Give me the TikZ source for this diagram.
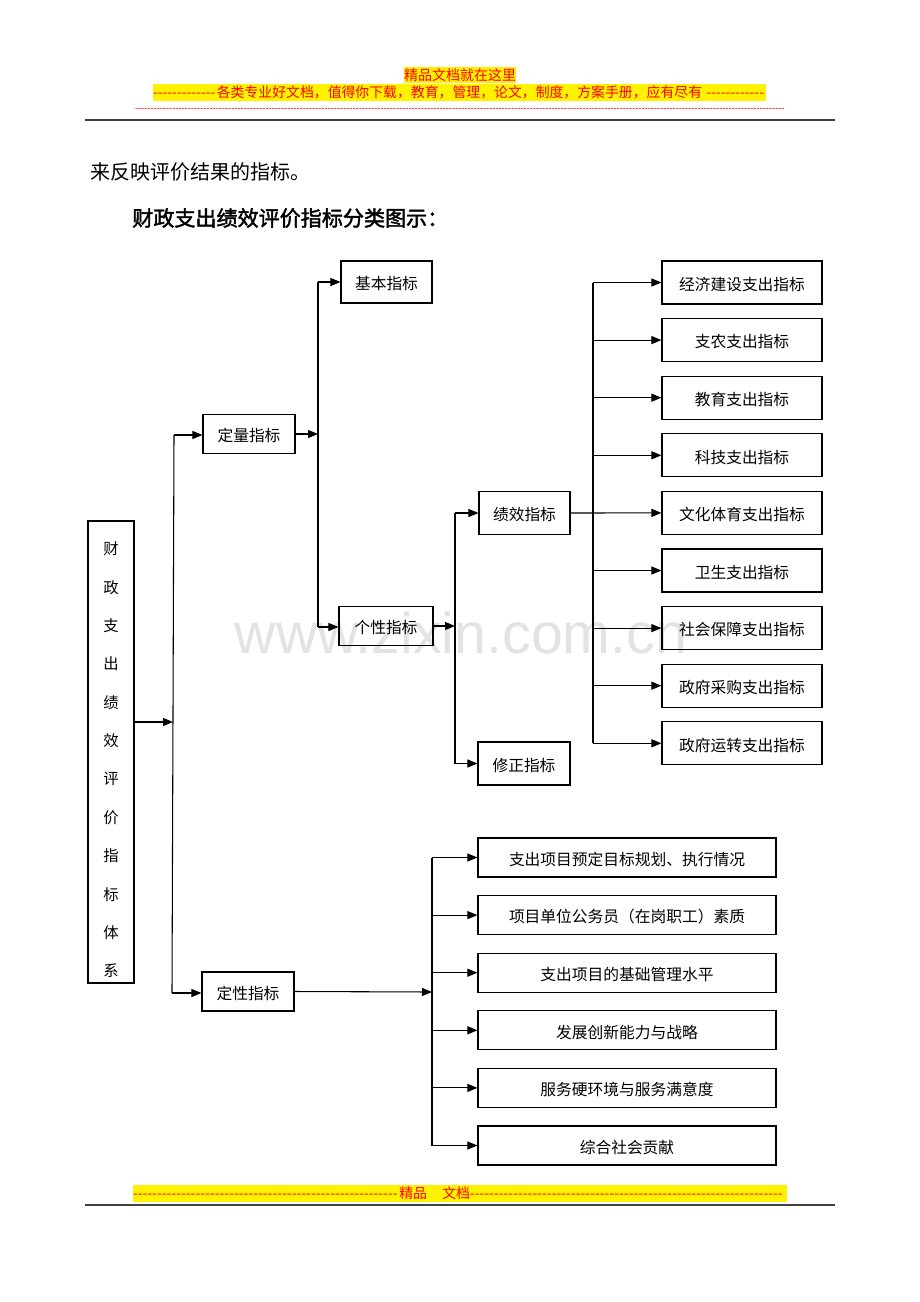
\documentclass[tikz,border=0pt]{standalone}
\usepackage{fontspec}
\setmainfont{Liberation Serif}
\newfontfamily\cjk{Noto Sans CJK SC}
\newfontfamily\cjkb[FakeBold=2]{Noto Sans CJK SC}
\newfontfamily\wmfont{Liberation Sans}
\usetikzlibrary{arrows.meta}
\tikzset{
  box/.style={draw, line width=0.85pt, inner sep=0pt, text height=13.2pt, text depth=1.4pt, font=\cjk\fontsize{11.8}{13}\selectfont},
  conn/.style={line width=0.8pt, -{Triangle[length=7.5pt,width=6pt]}},
  ln/.style={line width=0.8pt},
  rbox/.style={box, minimum width=120pt, minimum height=32.25pt},
  bbox/.style={box, minimum width=223.5pt, minimum height=29.25pt},
  hdr/.style={fill=yellow, text=red, inner sep=0pt, font=\cjk\fontsize{10.4}{12}\selectfont, minimum height=12.5pt},
}
\begin{document}
\begin{tikzpicture}[x=0.75pt,y=-0.75pt]
\useasboundingbox (0,0) rectangle (920,1302);
\fill[white] (0,0) rectangle (920,1302);

% watermark
\node[font=\wmfont\fontsize{43}{43}\selectfont, text=black!11, anchor=base, inner sep=0pt] (wm) at (461,653) {www.zixin.com.cn};

% header
\node[hdr, font=\cjk\fontsize{10.5}{12}\selectfont] (h1) at (460,75) {精品文档就在这里};
\node[hdr] (h2) at (459.5,92.5) {\hbox to 459.75pt{\leaders\hbox{-}\hfill 各类专业好文档，值得你下载，教育，管理，论文，制度，方案手册，应有尽有\leaders\hbox{-}\hfill}};
\node[text=red, inner sep=0pt, font=\wmfont\fontsize{7}{8}\selectfont] (h3) at (460,110) {\hbox to 487.5pt{\leaders\hbox{-}\hfill}};
\coordinate (hl1) at (85,120); \coordinate (hl2) at (835,120);
\draw[line width=1.2pt, black!75] (hl1) -- (hl2);

% footer
\node[hdr, minimum height=12.75pt] (f1) at (460,1193.5) {\hbox to 490.5pt{\leaders\hbox{-}\hfill 精品\hspace{1.1em}文档\hbox to 237.75pt{\leaders\hbox{-}\hfill}}};
\coordinate (fl1) at (85,1205); \coordinate (fl2) at (835,1205);
\draw[line width=1.2pt, black!75] (fl1) -- (fl2);

% body text
\node[anchor=west, inner sep=0pt, font=\cjk\fontsize{15}{17}\selectfont] (t1) at (90,172) {来反映评价结果的指标。};
\node[anchor=west, inner sep=0pt, font=\cjkb\fontsize{15.8}{18}\selectfont] (t2) at (132,218) {财政支出绩效评价指标分类图示：};

% boxes
\node[box, minimum width=34.5pt, minimum height=346.5pt] (root) at (111,752) {};
\foreach \c [count=\i from 0] in {财,政,支,出,绩,效,评,价,指,标,体,系}
  \node[font=\cjk\fontsize{11.5}{13}\selectfont, inner sep=0pt] (rc\i) at (111,{549+38.36*\i}) {\c};

\node[box, minimum width=68.25pt, minimum height=31.5pt] (jiben) at (386.5,282) {基本指标};
\node[box, minimum width=69pt, minimum height=29.25pt] (dingliang) at (249,434) {定量指标};
\node[box, minimum width=70.5pt, minimum height=29.25pt] (gexing) at (386,626) {个性指标};
\node[box, minimum width=68.25pt, minimum height=32.25pt] (jixiao) at (524.5,513) {绩效指标};
\node[box, minimum width=69pt, minimum height=32.25pt] (xiuzheng) at (524,763.5) {修正指标};
\node[box, minimum width=69pt, minimum height=29.25pt] (dingxing) at (248,991.5) {定性指标};

\foreach \t [count=\i from 0] in {经济建设支出指标,支农支出指标,教育支出指标,科技支出指标,文化体育支出指标,卫生支出指标,社会保障支出指标,政府采购支出指标,政府运转支出指标}
  \node[rbox] (r\i) at (742,{282.5+57.6*\i}) {\t};

\foreach \t [count=\i from 0] in {支出项目预定目标规划、执行情况,项目单位公务员（在岗职工）素质,支出项目的基础管理水平,发展创新能力与战略,服务硬环境与服务满意度,综合社会贡献}
  \node[bbox] (b\i) at (627,{857.5+57.6*\i}) {\t};

% connectors level 1
\coordinate (v1top) at (174,435);
\coordinate (v1bot) at (172,993);
\coordinate (v1mid) at (173,722);
\draw[conn] (root.east |- v1mid) -- (v1mid);
\draw[ln] (v1top) -- (v1bot);
\draw[conn] (v1top) -- (dingliang.west |- v1top);
\draw[conn] (v1bot) -- (dingxing.west |- v1bot);

% level 2 (quantitative)
\coordinate (v2top) at (318,282);
\coordinate (v2bot) at (318,627);
\coordinate (v2mid) at (318,434);
\draw[ln] (v2top) -- (v2bot);
\draw[conn] (dingliang.east) -- (v2mid);
\draw[conn] (v2top) -- (jiben.west);
\draw[conn] (v2bot) -- (gexing.west |- v2bot);

% level 3
\coordinate (v3top) at (455,513);
\coordinate (v3bot) at (455,763.5);
\coordinate (v3mid) at (455,626);
\draw[ln] (v3top) -- (v3bot);
\draw[conn] (gexing.east) -- (v3mid);
\draw[conn] (v3top) -- (jixiao.west);
\draw[conn] (v3bot) -- (xiuzheng.west);

% level 4
\coordinate (v4top) at (593,282.5);
\coordinate (v4bot) at (593,743.3);
\draw[ln] (v4top) -- (v4bot);
\foreach \i in {0,1,2,3,5,6,7,8}
  \draw[conn] (v4top |- r\i.west) -- (r\i.west);
\draw[conn] (jixiao.east) -- (r4.west);

% qualitative
\coordinate (v5top) at (432,857.5);
\coordinate (v5bot) at (432,1145.5);
\coordinate (v5mid) at (432,992);
\draw[ln] (v5top) -- (v5bot);
\draw[conn] (dingxing.east) -- (v5mid);
\foreach \i in {0,...,5}
  \draw[conn] (v5top |- b\i.west) -- (b\i.west);
\end{tikzpicture}
\end{document}
